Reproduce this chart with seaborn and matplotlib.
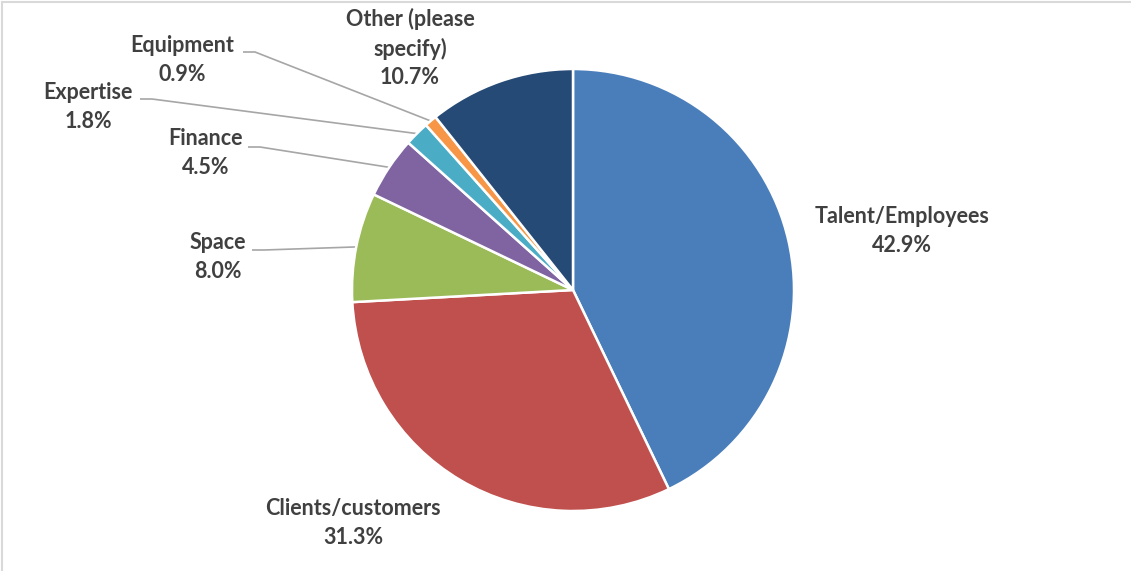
import matplotlib
matplotlib.use("Agg")
import matplotlib.pyplot as plt
from matplotlib.lines import Line2D
import seaborn as sns
import numpy as np

# Survey responses: share of each resource category (%)
categories = ["Talent/Employees", "Clients/customers", "Space", "Finance",
              "Expertise", "Equipment", "Other (please\nspecify)"]
shares = [42.9, 31.3, 8.0, 4.5, 1.8, 0.9, 10.7]
colors = ["#4A7EBB", "#C0504D", "#9BBB59", "#8064A2", "#4BACC6", "#F79646", "#254A75"]

W, H = 1131, 571

# label block centres (pixels from top-left) and leader-line start points
label_pos = [(902, 231), (353, 523), (218, 257), (206, 153), (88, 107), (182, 60), (410, 48)]
leader_start = [None, None, (252, 250), (248, 147), (140, 99), (243, 52), None]

sns.set_theme(style="white")
plt.rcParams["font.family"] = ["Lato", "DejaVu Sans"]

fig = plt.figure(figsize=(W / 100, H / 100), dpi=100)
ax = fig.add_axes([0, 0, 1, 1])

cx, cy, r = 573, H - 290, 221
wedges, _ = ax.pie(shares, colors=colors, startangle=90, counterclock=False,
                   center=(cx, cy), radius=r,
                   wedgeprops=dict(edgecolor="white", linewidth=1.8))
ax.set_xlim(0, W)
ax.set_ylim(0, H)
ax.set_aspect("equal")
ax.axis("off")

for w, cat, val, (lx, ly), ls in zip(wedges, categories, shares, label_pos, leader_start):
    ax.text(lx, H - ly, f"{cat}\n{val:.1f}%", ha="center", va="center",
            fontsize=15.5, fontweight="bold", color="#404040", linespacing=1.45)
    if ls is not None:
        mid = np.deg2rad((w.theta1 + w.theta2) / 2)
        ex, ey = cx + r * np.cos(mid), cy + r * np.sin(mid)
        sx, sy = ls[0], H - ls[1]
        ax.plot([sx, sx + 12, ex], [sy, sy, ey], color="#A6A6A6", lw=1.2,
                solid_capstyle="butt", zorder=0)

# thin frame on the left and top edges of the chart area
frame_kw = dict(transform=fig.transFigure, color="#D9D9D9", lw=1.5)
fig.lines.append(Line2D([2 / W, 2 / W], [0, 1 - 2 / H], **frame_kw))
fig.lines.append(Line2D([2 / W, 1], [1 - 2 / H, 1 - 2 / H], **frame_kw))

fig.savefig("out.png", dpi=100)
